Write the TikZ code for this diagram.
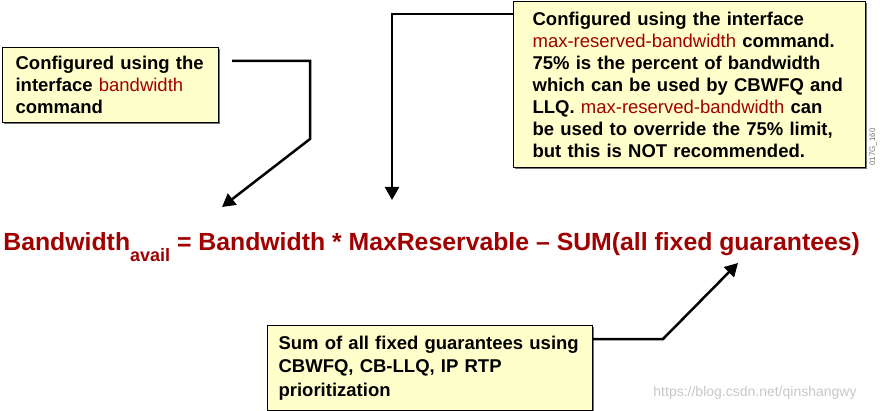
\documentclass[tikz,border=0pt]{standalone}
\usepackage{fontspec}
\setmainfont{Liberation Sans}
\usepackage{xcolor}
\usetikzlibrary{shadows}
\usepgflibrary{arrows.meta}
\definecolor{cmdred}{RGB}{160,0,0}
\definecolor{notefill}{RGB}{255,255,204}
\newcommand{\cmd}[1]{\textcolor{cmdred}{\mdseries #1}}

\begin{document}
\begin{tikzpicture}
    [x=1pt, y=-1pt,
    thick,
    note/.style={draw=black, line width=1.2pt, fill=notefill, anchor=north west,
        align=left, inner ysep=2pt, font=\fontsize{18.5}{22}\selectfont\bfseries,
        drop shadow={shadow xshift=1.5pt, shadow yshift=-1.5pt, fill=black!55, opacity=1}},
    pointer/.style={line width=2.5pt, -{Triangle[length=13pt,width=14pt]}},
    formula/.style={anchor=base west, inner sep=0pt, text=cmdred,
        font=\fontsize{24.8}{30}\selectfont\bfseries},
    figtag/.style={inner sep=0pt, text=black!55, font=\fontsize{8}{9}\selectfont},
    wmark/.style={inner sep=0pt, text=black!22, font=\fontsize{14}{16}\selectfont}]
        \useasboundingbox (0,0) rectangle (880,411);

        %% Notes
        \node[note, text width=190pt, minimum height=75pt, inner xsep=13pt] (band) at (2,47)
            {Configured using the\\ interface \cmd{bandwidth}\\ command};
        \node[note, text width=314pt, minimum height=166pt, inner xsep=19pt] (maxres) at (513,1)
            {Configured using the interface\\ \cmd{max-reserved-bandwidth} command.\\
             75\% is the percent of bandwidth\\ which can be used by CBWFQ and\\
             LLQ. \cmd{max-reserved-bandwidth} can\\ be used to override the 75\% limit,\\
             but this is NOT recommended.};
        \node[note, text width=303pt, minimum height=85pt, inner xsep=11pt,
            font=\fontsize{18.5}{23.5}\selectfont\bfseries] (fixed) at (267,325)
            {Sum of all fixed guarantees using\\ CBWFQ, CB-LLQ, IP RTP\\ prioritization};

        %% Formula
        \node[formula] (eq) at (3,251)
            {Bandwidth\raisebox{-11pt}{\fontsize{18}{20}\selectfont avail} = Bandwidth * MaxReservable – SUM(all fixed guarantees)};

        \node[figtag, rotate=90] (figid) at (873,147) {017G\_160};
        \node[wmark] (site) at (755,393) {https://blog.csdn.net/qinshangwy};

        %% Pointers
        \coordinate (bandout) at (232,61);
        \coordinate (bandtip) at (222,207);
        \coordinate (maxtip) at (392,200);
        \coordinate (fixedtip) at (738,263);

        \draw[pointer] (bandout) -| (310,139) -- (bandtip);
        \draw[pointer] (maxres.west |- 0,14) -| (maxtip);
        \draw[pointer] (fixed.east |- 0,339) -- (663,339) -- (fixedtip);
    \end{tikzpicture}
\end{document}
